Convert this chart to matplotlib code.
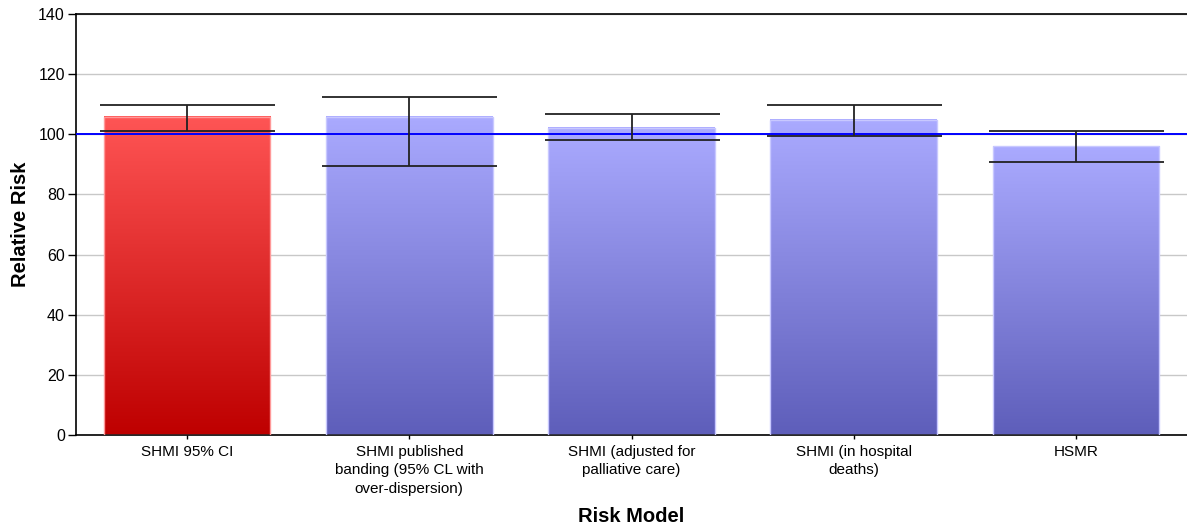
import matplotlib
matplotlib.use("Agg")
import matplotlib.pyplot as plt
import numpy as np
from matplotlib.colors import LinearSegmentedColormap

categories = ["SHMI 95% CI",
              "SHMI published\nbanding (95% CL with\nover-dispersion)",
              "SHMI (adjusted for\npalliative care)",
              "SHMI (in hospital\ndeaths)",
              "HSMR"]
values = [105.8, 105.8, 102.2, 104.8, 96.1]
upper = [109.6, 112.3, 106.6, 109.7, 101.0]
lower = [101.0, 89.4, 98.0, 99.5, 90.9]
reference = 100

fig = plt.figure(figsize=(11.87, 5.26), dpi=100)
ax = fig.add_axes([76 / 1187, 91 / 526, 1 - 76 / 1187, 421 / 526])

x = np.arange(len(categories))
bars = ax.bar(x, values, width=0.75, color="none", edgecolor="none", zorder=2)

red_cmap = LinearSegmentedColormap.from_list("r", ["#BE0000", "#FF5555"])
blue_cmap = LinearSegmentedColormap.from_list("b", ["#5E5EBA", "#AAAAFF"])
grad = np.linspace(0, 1, 256).reshape(-1, 1)
for i, b in enumerate(bars):
    x0, w, h = b.get_x(), b.get_width(), b.get_height()
    cmap = red_cmap if i == 0 else blue_cmap
    ax.imshow(grad, extent=[x0, x0 + w, 0, h], origin="lower", aspect="auto",
              cmap=cmap, zorder=2)
    edge = "#FF9999" if i == 0 else "#C8C8FF"
    ax.add_patch(plt.Rectangle((x0, 0), w, h, fill=False, edgecolor=edge, lw=1, zorder=3))

ax.axhline(reference, color="#0000FF", lw=1.4, zorder=4)

v = np.array(values)
yerr = [v - np.array(lower), np.array(upper) - v]
ax.errorbar(x, values, yerr=yerr, fmt="none", ecolor="#222222", elinewidth=1.3,
            capsize=63, capthick=1.3, zorder=5)

ax.set_xlim(-0.5, len(categories) - 0.5)
ax.set_ylim(0, 140)
ax.set_yticks(np.arange(0, 141, 20))
ax.yaxis.grid(True, color="#C8C8C8", lw=1)
ax.set_axisbelow(True)

ax.set_xticks(x)
ax.set_xticklabels(categories, fontsize=11, family="Liberation Sans", linespacing=1.4)
for lbl in ax.get_yticklabels():
    lbl.set_fontsize(11.5)
    lbl.set_family("Liberation Sans")

for s in ["left", "top", "bottom"]:
    ax.spines[s].set_color("black")
    ax.spines[s].set_linewidth(1.2)
ax.spines["right"].set_visible(False)
ax.tick_params(axis="y", length=6, width=1, pad=2)
ax.tick_params(axis="x", length=3, width=1, pad=4)

ax.set_ylabel("Relative Risk", fontsize=14.5, fontweight="bold",
              family=["Liberation Sans Narrow", "Liberation Sans"], labelpad=6)
ax.set_xlabel("Risk Model", fontsize=14.5, fontweight="bold",
              family=["Liberation Sans Narrow", "Liberation Sans"], labelpad=8)

fig.savefig("out.png", dpi=100)
